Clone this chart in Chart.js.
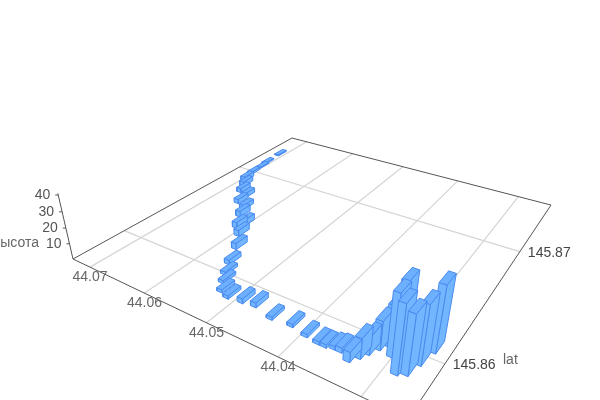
<!DOCTYPE html>
<html>
<head>
<meta charset="utf-8">
<style>
  html, body { margin: 0; padding: 0; background: #fff; }
  canvas { display: block; }
</style>
<script src="https://cdn.jsdelivr.net/npm/chart.js@4/dist/chart.umd.min.js"></script>
</head>
<body>
<canvas id="grafico" width="600" height="400"></canvas>
<script>
// values
const lons = [44.0710,44.0708,44.0705,44.0703,44.0696,44.0686,44.0675,44.0658,44.0655,44.0636,44.0626,44.0604,44.0609,44.0593,44.0574,44.0558,44.0547,44.0537,44.0526,44.0512,44.0492,44.0474,44.0445,44.0418,44.0395,44.0378,44.0369,44.0359,44.0351,44.0337,44.0330,44.0325,44.0319,44.0311,44.0302,44.0300,44.0287,44.0278,44.0273,44.0268];
const lats = [145.8734,145.8718,145.8711,145.8700,145.8690,145.8684,145.8676,145.8672,145.8664,145.8660,145.8652,145.8645,145.8641,145.8635,145.8624,145.8611,145.8603,145.8597,145.8591,145.8589,145.8590,145.8591,145.8588,145.8589,145.8587,145.8586,145.8586,145.8587,145.8587,145.8584,145.8588,145.8592,145.8597,145.8601,145.8596,145.8601,145.8588,145.8590,145.8598,145.8608];
const alturas = [0.8,0.8,0.8,1.5,3,3,3,3,3,3,4,4,4,4,4,3,2,2,2,2,3,3,2,2,2,2,2,2,3,6,12,11,17,24,36,39,39,34,34,38];

const lonTicks = [44.07, 44.06, 44.05, 44.04, 44.03];
const latTicks = [145.86, 145.87];
const alturaTicks = [10, 20, 30, 40];

// axis ranges of the floor
const lonMax = 44.0734, lonSpan = 0.0484;
const latMin = 145.8566, latSpan = 0.01953;
const alturaTopo = 41;

// camera: floor homography plus the vanishing point of the verticals
const H = { a: 215.8, b: 351.8, c: 73, d: 37.6, e: -58.2, f: 259, g: -0.2922, h: 0.4548 };
const fuga = { x: 293, y: 1213, k: -0.00157 };

const COR_TOPO = "#6cb0ff";
const COR_LADO = "#72b6ff";
const COR_BORDA = "#4a8aee";
const COR_EIXO = "#555555";
const COR_GRADE = "#d4d4d4";

function toS(lon) { return (lonMax - lon) / lonSpan; }
function toT(lat) { return (lat - latMin) / latSpan; }

function projetar(s, t, z) {
  const w = H.g * s + H.h * t + 1 + fuga.k * z;
  return {
    x: (H.a * s + H.b * t + H.c + fuga.k * z * fuga.x) / w,
    y: (H.d * s + H.e * t + H.f + fuga.k * z * fuga.y) / w
  };
}

function linha(pontos, cor, largura) {
  return { data: pontos, showLine: true, borderColor: cor, borderWidth: largura, pointRadius: 0, fill: false };
}

function face(pontos, cor) {
  return {
    data: pontos.concat([pontos[0]]), showLine: true, borderColor: COR_BORDA, borderWidth: 1,
    pointRadius: 0, fill: "shape", backgroundColor: cor
  };
}

// painter order: furthest first
function montarDatasets() {
  const lista = [];

  lonTicks.forEach(v => {
    lista.push(linha([projetar(toS(v), 0, 0), projetar(toS(v), 1, 0)], COR_GRADE, 1.2));
  });
  latTicks.forEach(v => {
    lista.push(linha([projetar(0, toT(v), 0), projetar(1, toT(v), 0)], COR_GRADE, 1.2));
  });

  const moldura = [projetar(0, 0, 0), projetar(1, 0, 0), projetar(1, 1, 0), projetar(0, 1, 0), projetar(0, 0, 0)];
  lista.push(linha(moldura, COR_EIXO, 1));
  lista.push(linha([projetar(0, 0, 0), projetar(0, 0, alturaTopo)], COR_EIXO, 1));

  const ds = 0.0085, dt = 0.024;
  const barras = lons.map((lon, i) => ({ s: toS(lon), t: toT(lats[i]), z: alturas[i] }));
  barras.sort((p, q) => (H.g * q.s + H.h * q.t) - (H.g * p.s + H.h * p.t));

  barras.forEach(b => {
    const s0 = b.s - ds, s1 = b.s + ds, t0 = b.t - dt, t1 = b.t + dt;
    lista.push(face([projetar(s1, t0, 0), projetar(s1, t1, 0), projetar(s1, t1, b.z), projetar(s1, t0, b.z)], COR_LADO));
    lista.push(face([projetar(s0, t0, 0), projetar(s1, t0, 0), projetar(s1, t0, b.z), projetar(s0, t0, b.z)], COR_LADO));
    lista.push(face([projetar(s0, t0, b.z), projetar(s1, t0, b.z), projetar(s1, t1, b.z), projetar(s0, t1, b.z)], COR_TOPO));
  });

  // Chart.js paints the last dataset first
  return lista.reverse();
}

const textosPlugin = {
  id: "textos",
  afterDraw(chart) {
    const c = chart.ctx;
    c.save();
    c.font = "14px 'Liberation Sans', Arial, sans-serif";
    c.textBaseline = "middle";

    c.fillStyle = "#666666";
    c.textAlign = "center";
    lonTicks.forEach(v => {
      const p = projetar(toS(v), 0, 0);
      if (p.y + 10 < 392) c.fillText(v.toFixed(2), p.x, p.y + 10);
    });

    c.fillStyle = "#444444";
    c.textAlign = "left";
    latTicks.forEach(v => {
      const p = projetar(1, toT(v), 0);
      c.fillText(v.toFixed(2), p.x + 8, p.y + 1);
    });

    c.fillStyle = "#666666";
    c.fillText("lat", 503, 360);

    c.textAlign = "right";
    c.fillStyle = "#555555";
    c.strokeStyle = COR_EIXO;
    alturaTicks.forEach(v => {
      const p = projetar(0, 0, v);
      c.beginPath();
      c.moveTo(p.x - 3, p.y);
      c.lineTo(p.x, p.y);
      c.stroke();
      c.fillText(String(v), p.x - 8, p.y);
    });
    c.fillStyle = "#666666";
    c.fillText("высота", 39, 243);
    c.restore();
  }
};

new Chart(document.getElementById("grafico"), {
  type: "scatter",
  data: { datasets: montarDatasets() },
  options: {
    responsive: false,
    animation: false,
    layout: { padding: 0 },
    plugins: { legend: { display: false }, tooltip: { enabled: false } },
    scales: {
      x: { type: "linear", min: 0, max: 600, display: false },
      y: { type: "linear", min: 0, max: 400, reverse: true, display: false }
    }
  },
  plugins: [textosPlugin]
});
</script>
</body>
</html>
